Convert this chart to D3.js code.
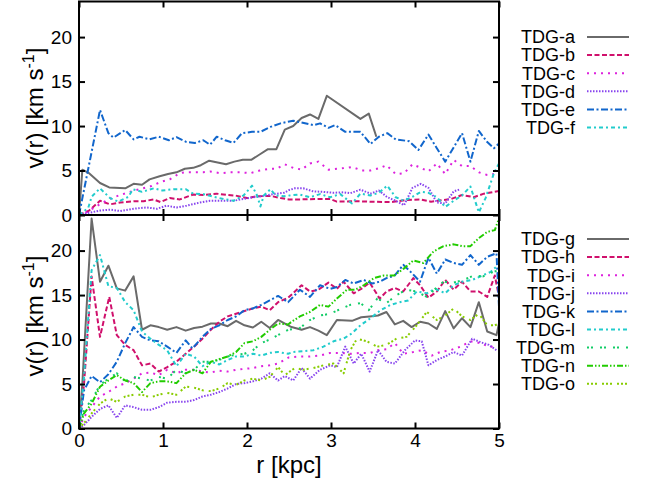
<!DOCTYPE html>
<html><head><meta charset="utf-8">
<script src="https://cdn.jsdelivr.net/npm/d3@7"></script>
<style>
body{margin:0;background:#fff;}
text{font-family:"Liberation Sans",Arial,Helvetica,sans-serif;fill:#000;}
</style></head>
<body><svg id="c" width="645" height="482"></svg>
<script>
// ---------- data ----------
const xTicks = [0,1,2,3,4,5];
const yTicks = [0,5,10,15,20];
const topNames = ["TDG-a","TDG-b","TDG-c","TDG-d","TDG-e","TDG-f"];
const botNames = ["TDG-g","TDG-h","TDG-i","TDG-j","TDG-k","TDG-l","TDG-m","TDG-n","TDG-o"];

const tdgA = [[0,0],[0.04,5.1],[0.12,4.7],[0.25,3.6],[0.36,3.1],[0.55,3.0],[0.65,3.5],[0.75,3.4],[0.84,4.0],[0.96,4.35],[1.06,4.6],[1.16,4.8],[1.26,5.2],[1.36,5.3],[1.45,5.6],[1.55,6.1],[1.65,5.9],[1.75,5.7],[1.85,6.0],[1.95,6.2],[2.05,6.2],[2.15,6.8],[2.25,7.4],[2.35,7.4],[2.45,9.6],[2.55,10.0],[2.65,10.9],[2.75,11.3],[2.85,10.8],[2.95,13.4],[3.35,10.8],[3.45,11.4],[3.54,8.8]];
const tdgB = [[0,0],[0.12,0.5],[0.25,1.6],[0.37,1.2],[0.49,1.4],[0.65,1.55],[0.77,1.55],[0.89,1.75],[0.97,1.45],[1.08,1.9],[1.2,1.75],[1.36,2.3],[1.48,2.25],[1.64,2.4],[1.76,2.25],[1.88,2.15],[2.0,1.9],[2.12,2.1],[2.28,2.15],[2.4,1.9],[2.5,1.75],[2.63,1.75],[2.87,1.8],[2.99,1.8],[3.07,1.5],[3.27,1.55],[3.47,1.5],[3.71,1.45],[3.91,1.7],[4.07,1.75],[4.19,1.5],[4.31,1.65],[4.43,1.8],[4.56,2.25],[4.7,2.0],[4.82,2.4],[4.94,2.6],[5.0,2.7]];
const tdgC = [[0,0],[0.07,0.2],[0.23,1.1],[0.36,1.8],[0.49,2.25],[0.68,2.8],[0.86,3.25],[0.98,3.75],[1.08,4.0],[1.2,4.7],[1.26,4.8],[1.48,4.8],[1.56,4.9],[1.68,4.7],[1.8,4.8],[1.92,4.8],[2.04,4.7],[2.15,5.0],[2.27,5.2],[2.35,5.2],[2.45,5.7],[2.55,5.3],[2.65,5.1],[2.75,5.8],[2.85,6.0],[2.97,5.1],[3.07,5.2],[3.19,5.3],[3.25,5.4],[3.37,5.0],[3.47,5.0],[3.59,5.3],[3.66,5.6],[3.77,4.6],[3.87,4.7],[3.97,5.7],[4.07,5.3],[4.16,4.9],[4.26,5.8],[4.36,4.6],[4.46,6.2],[4.56,5.5],[4.66,5.5],[4.76,4.8],[4.86,4.5],[4.94,4.6]];
const tdgD = [[0,0],[0.1,0.2],[0.25,0.5],[0.37,0.6],[0.49,0.45],[0.65,0.7],[0.8,0.85],[0.93,0.7],[1.04,1.05],[1.16,0.85],[1.28,1.05],[1.44,1.4],[1.56,1.6],[1.72,1.6],[1.84,1.6],[1.96,1.8],[2.08,2.0],[2.2,2.15],[2.32,2.35],[2.44,2.5],[2.5,2.8],[2.57,3.0],[2.67,3.0],[2.79,2.65],[2.91,2.6],[3.03,2.5],[3.15,2.55],[3.23,2.45],[3.35,2.85],[3.47,2.4],[3.57,2.75],[3.67,2.0],[3.77,1.6],[3.87,1.1],[3.97,3.05],[4.07,3.5],[4.16,3.05],[4.26,1.4],[4.36,1.3],[4.46,2.65],[4.54,2.9]];
const tdgE = [[0,0],[0.25,11.8],[0.35,9.2],[0.41,8.7],[0.55,9.55],[0.65,8.5],[0.72,8.8],[0.84,8.5],[0.95,8.8],[1.07,8.4],[1.16,8.75],[1.28,8.2],[1.38,8.1],[1.48,8.4],[1.56,7.9],[1.64,8.8],[1.74,8.4],[1.84,8.1],[1.94,9.2],[2.06,9.35],[2.16,9.35],[2.28,9.9],[2.4,10.3],[2.55,10.6],[2.79,10.1],[2.87,10.3],[2.97,9.8],[3.05,10.1],[3.17,9.35],[3.35,9.35],[3.47,7.98],[3.57,8.8],[3.67,9.2],[3.77,8.5],[3.93,8.3],[4.04,7.3],[4.16,9.05],[4.26,7.5],[4.36,6.0],[4.46,7.6],[4.56,9.2],[4.66,6.0],[4.76,9.45],[4.86,8.2],[4.94,7.5],[5.0,8.05]];
const tdgF = [[0,0],[0.11,0.8],[0.15,2.05],[0.25,3.0],[0.37,1.9],[0.47,1.5],[0.59,2.05],[0.64,2.9],[0.75,2.6],[0.89,3.0],[0.99,2.75],[1.13,2.9],[1.27,2.9],[1.36,2.4],[1.48,2.35],[1.6,2.05],[1.72,1.8],[1.84,1.6],[1.96,2.2],[2.06,3.3],[2.12,2.2],[2.16,0.95],[2.2,2.2],[2.28,2.9],[2.34,2.2],[2.44,2.1],[2.51,2.2],[2.63,2.3],[2.75,2.0],[2.87,2.35],[2.99,2.0],[3.11,2.35],[3.25,1.3],[3.35,2.4],[3.47,2.2],[3.57,2.5],[3.67,3.3],[3.77,2.0],[3.87,1.6],[3.97,2.05],[4.07,2.6],[4.16,2.5],[4.26,2.0],[4.36,0.9],[4.46,1.6],[4.56,2.2],[4.66,3.2],[4.76,0.3],[4.84,1.9],[4.94,4.7],[5.0,5.8]];

const tdgG = [[0,0],[0.04,5.1],[0.15,23.6],[0.25,16.5],[0.35,18.3],[0.45,15.75],[0.55,15.5],[0.65,17.1],[0.75,11.1],[0.85,11.6],[0.95,11.4],[1.05,11.1],[1.16,11.4],[1.27,11.0],[1.37,11.3],[1.47,11.45],[1.57,11.8],[1.67,11.8],[1.77,11.5],[1.87,12.1],[1.97,11.6],[2.07,11.35],[2.17,12.0],[2.27,11.3],[2.37,12.2],[2.49,11.6],[2.53,11.4],[2.65,11.1],[2.75,11.4],[2.85,11.0],[2.95,10.5],[3.07,12.2],[3.25,12.1],[3.36,12.5],[3.46,12.6],[3.56,12.7],[3.66,13.1],[3.76,11.7],[3.86,12.1],[3.96,11.4],[4.06,12.0],[4.16,11.8],[4.26,11.2],[4.36,13.2],[4.46,11.25],[4.56,12.4],[4.66,11.4],[4.76,14.2],[4.86,10.9],[4.97,10.5],[5.0,11.8]];
const tdgH = [[0,0],[0.06,5.0],[0.15,17.1],[0.25,10.3],[0.36,14.8],[0.45,10.5],[0.55,9.4],[0.65,8.8],[0.75,7.1],[0.85,7.3],[0.95,6.4],[1.05,6.9],[1.16,7.5],[1.27,8.4],[1.37,9.2],[1.47,10.1],[1.57,11.1],[1.67,12.0],[1.77,12.6],[1.87,12.9],[1.97,13.2],[2.07,13.5],[2.17,13.7],[2.27,13.3],[2.37,14.2],[2.49,14.7],[2.65,16.1],[2.75,15.4],[2.85,15.6],[2.97,16.4],[3.07,15.7],[3.15,16.5],[3.27,15.2],[3.36,15.7],[3.46,16.4],[3.58,14.6],[3.66,15.4],[3.76,15.8],[3.86,15.4],[3.98,16.9],[4.06,16.1],[4.16,14.7],[4.26,15.4],[4.36,16.7],[4.46,15.6],[4.56,16.5],[4.66,15.4],[4.76,15.4],[4.86,14.8],[4.95,17.2],[5.0,14.8]];
const tdgI = [[0,0],[0.06,1.3],[0.15,2.4],[0.25,3.6],[0.35,4.1],[0.45,4.7],[0.55,5.1],[0.65,5.6],[0.75,6.2],[0.85,6.3],[0.95,6.0],[1.05,6.6],[1.16,6.2],[1.27,6.6],[1.37,6.6],[1.47,6.4],[1.57,6.3],[1.67,6.5],[1.77,6.4],[1.87,6.6],[1.97,6.7],[2.07,6.8],[2.17,7.0],[2.27,7.1],[2.37,7.3],[2.5,8.0],[2.63,8.1],[2.75,8.1],[2.87,8.2],[2.99,8.5],[3.11,8.5],[3.23,8.4],[3.35,8.5],[3.47,8.5],[3.56,8.8],[3.66,8.9],[3.76,9.6],[3.86,8.4],[3.98,8.6],[4.08,8.8],[4.2,8.2],[4.3,8.6],[4.42,8.8],[4.54,9.2],[4.66,9.8],[4.78,9.6],[4.88,9.2],[4.97,9.2]];
const tdgJ = [[0,0],[0.06,0.4],[0.15,1.3],[0.25,2.2],[0.35,2.6],[0.45,1.2],[0.55,2.6],[0.65,2.4],[0.75,2.1],[0.85,2.1],[0.95,2.4],[1.05,2.9],[1.16,3.0],[1.27,3.0],[1.37,3.2],[1.47,3.6],[1.57,3.8],[1.67,4.1],[1.77,4.5],[1.87,5.0],[1.97,5.1],[2.07,5.3],[2.17,5.6],[2.27,6.2],[2.37,5.4],[2.45,5.9],[2.55,5.4],[2.65,6.8],[2.75,5.6],[2.87,6.6],[2.99,7.1],[3.07,6.9],[3.17,9.2],[3.27,7.3],[3.36,8.4],[3.46,6.4],[3.56,8.8],[3.66,7.5],[3.76,7.3],[3.88,8.8],[4.0,9.9],[4.08,9.8],[4.16,7.1],[4.26,7.7],[4.36,8.1],[4.46,8.6],[4.56,8.2],[4.68,10.1],[4.78,9.7],[4.88,9.4],[4.97,8.8]];
const tdgK = [[0,0],[0.06,4.3],[0.15,5.9],[0.25,5.2],[0.35,6.1],[0.45,7.5],[0.55,9.6],[0.65,11.4],[0.75,10.3],[0.85,9.9],[0.95,9.8],[1.05,9.2],[1.16,8.5],[1.27,9.9],[1.35,9.0],[1.47,10.3],[1.57,11.2],[1.67,11.6],[1.77,12.2],[1.87,12.6],[1.97,13.3],[2.07,13.5],[2.17,13.9],[2.27,14.4],[2.37,14.9],[2.49,14.2],[2.63,15.6],[2.75,14.8],[2.87,16.1],[2.99,15.7],[3.07,15.9],[3.17,16.7],[3.27,16.3],[3.39,16.7],[3.49,16.3],[3.58,16.5],[3.66,16.9],[3.76,17.2],[3.86,18.4],[3.96,17.5],[4.06,16.5],[4.16,19.2],[4.26,17.4],[4.36,19.0],[4.46,18.6],[4.56,18.4],[4.66,19.5],[4.76,18.4],[4.86,19.3],[4.97,19.7],[5.0,13.7]];
const tdgL = [[0,0],[0.06,5.8],[0.15,17.8],[0.25,19.5],[0.35,16.0],[0.45,15.8],[0.55,14.2],[0.65,13.3],[0.75,10.9],[0.85,10.1],[0.95,9.4],[1.05,8.8],[1.16,7.0],[1.27,8.4],[1.37,8.1],[1.47,7.0],[1.57,7.5],[1.67,7.2],[1.77,7.7],[1.87,8.1],[1.97,8.1],[2.07,8.4],[2.17,8.2],[2.27,8.5],[2.37,8.6],[2.49,8.4],[2.55,8.6],[2.79,8.8],[2.91,9.2],[3.03,9.8],[3.15,10.1],[3.25,10.7],[3.35,11.6],[3.47,12.4],[3.59,13.3],[3.71,13.9],[3.82,14.2],[3.92,14.4],[4.02,15.4],[4.14,15.2],[4.24,15.7],[4.36,15.2],[4.46,16.1],[4.56,16.5],[4.68,16.7],[4.78,17.1],[4.9,17.6],[4.97,18.2]];
const tdgM = [[0,0],[0.06,2.1],[0.15,3.2],[0.25,4.9],[0.35,5.6],[0.45,6.2],[0.55,5.3],[0.65,5.8],[0.75,5.6],[0.85,5.4],[0.95,5.8],[1.05,5.6],[1.16,6.6],[1.27,6.2],[1.37,6.6],[1.47,7.5],[1.57,7.5],[1.67,7.7],[1.77,8.1],[1.87,8.3],[1.97,8.4],[2.07,8.8],[2.17,9.6],[2.27,10.0],[2.37,10.5],[2.49,11.1],[2.63,11.3],[2.75,12.2],[2.87,12.7],[2.99,12.9],[3.13,13.5],[3.23,13.9],[3.35,14.1],[3.45,13.3],[3.55,14.6],[3.66,14.1],[3.78,15.0],[3.9,15.6],[4.02,15.4],[4.14,14.8],[4.24,15.7],[4.34,16.5],[4.46,16.4],[4.58,16.7],[4.7,17.2],[4.81,17.1],[4.93,17.6],[5.0,17.8]];
const tdgN = [[0,0],[0.06,1.7],[0.15,2.8],[0.25,4.7],[0.35,5.4],[0.45,6.0],[0.55,5.4],[0.65,5.1],[0.75,4.1],[0.85,5.1],[0.95,5.3],[1.05,5.3],[1.16,5.1],[1.27,6.2],[1.37,6.6],[1.47,6.2],[1.57,7.5],[1.67,7.8],[1.77,8.1],[1.87,8.6],[1.97,9.6],[2.07,9.8],[2.17,10.3],[2.27,11.1],[2.37,11.8],[2.49,11.7],[2.53,12.0],[2.63,12.6],[2.75,13.1],[2.87,13.9],[2.97,13.7],[3.07,14.6],[3.19,15.6],[3.29,15.6],[3.39,16.1],[3.51,16.9],[3.63,17.2],[3.75,17.2],[3.87,18.0],[3.98,18.9],[4.1,18.6],[4.22,19.9],[4.34,20.5],[4.46,20.7],[4.56,20.5],[4.66,20.5],[4.76,21.4],[4.86,22.1],[4.95,22.3],[5.0,23.6]];
const tdgO = [[0,0],[0.06,0.6],[0.15,1.7],[0.25,2.8],[0.35,3.4],[0.45,3.0],[0.55,3.6],[0.65,3.8],[0.75,3.8],[0.85,3.5],[0.95,3.8],[1.05,4.0],[1.16,3.8],[1.27,4.7],[1.37,4.6],[1.47,4.3],[1.57,4.2],[1.67,4.5],[1.77,5.1],[1.87,4.9],[1.97,5.4],[2.07,5.6],[2.17,5.4],[2.27,5.8],[2.37,6.9],[2.45,6.0],[2.57,6.8],[2.67,6.6],[2.79,6.8],[2.91,7.1],[3.03,7.3],[3.15,6.2],[3.23,8.8],[3.31,10.1],[3.43,9.8],[3.55,9.2],[3.66,9.4],[3.78,10.1],[3.9,10.3],[4.02,11.6],[4.14,13.1],[4.26,12.2],[4.36,12.7],[4.46,13.5],[4.56,12.6],[4.66,12.2],[4.76,12.9],[4.86,11.6],[4.95,11.6],[5.0,11.8]];

// ---------- styles ----------
const styles = [
  {c:"#6a6a6a", d:null},
  {c:"#d0106c", d:"5,2.5"},
  {c:"#dd22dd", d:"2,5"},
  {c:"#8844ee", d:"1.5,1.5"},
  {c:"#1166cc", d:"7,2.5,2,2.5"},
  {c:"#22cccc", d:"4,3,2,3"},
  {c:"#11cc66", d:"2,2,2,7"},
  {c:"#22cc00", d:"6,2,1.5,2,1.5,2"},
  {c:"#88cc00", d:"2,2,2,2,2,5"}
];
const topSeries = [tdgA,tdgB,tdgC,tdgD,tdgE,tdgF];
const botSeries = [tdgG,tdgH,tdgI,tdgJ,tdgK,tdgL,tdgM,tdgN,tdgO];

const svg = d3.select("#c");
const L = 79, R = 499;
const x = d3.scaleLinear().domain([0,5]).range([L,R]);
const panels = [
  {top:1.5, bot:215, series:topSeries, names:topNames, xlabels:false, leg0:37, legStep:18.1, ylab:108},
  {top:215, bot:428.5, series:botSeries, names:botNames, xlabels:true, leg0:239, legStep:18.1, ylab:316}
];

panels.forEach((p,pi)=>{
  const y = d3.scaleLinear().domain([0,24]).range([p.bot,p.top]);
  const cid = "clip"+pi;
  svg.append("clipPath").attr("id",cid).append("rect")
    .attr("x",L).attr("y",p.top).attr("width",R-L).attr("height",p.bot-p.top);
  const line = d3.line().x(d=>x(d[0])).y(d=>y(d[1]));
  const g = svg.append("g").attr("clip-path",`url(#${cid})`);
  p.series.forEach((s,i)=>{
    g.append("path").datum(s).attr("d",line)
      .attr("fill","none").attr("stroke",styles[i].c).attr("stroke-width",2)
      .attr("stroke-dasharray",styles[i].d).attr("stroke-linejoin","round");
  });
  const fs = "19px";
  const ax = svg.append("g").attr("transform",`translate(${L},0)`)
    .call(d3.axisLeft(y).tickValues(yTicks).tickSize(-6).tickPadding(7));
  ax.selectAll("text").style("font-size",fs).style("font-family","Liberation Sans, Arial, sans-serif");
  svg.append("g").attr("transform",`translate(${R},0)`)
    .call(d3.axisRight(y).tickValues(yTicks).tickSize(-6).tickFormat(""));
  const bx = svg.append("g").attr("transform",`translate(0,${p.bot})`)
    .call(d3.axisBottom(x).tickValues(xTicks).tickSize(-6).tickPadding(5).tickFormat(p.xlabels? d3.format("d") : ""));
  bx.selectAll("text").style("font-size",fs).style("font-family","Liberation Sans, Arial, sans-serif");
  svg.append("g").attr("transform",`translate(0,${p.top})`)
    .call(d3.axisTop(x).tickValues(xTicks).tickSize(-6).tickFormat(""));
  svg.selectAll(".domain").remove();
  svg.selectAll(".tick line").attr("stroke","#000").attr("stroke-width",2);
  svg.append("rect").attr("x",L).attr("y",p.top).attr("width",R-L).attr("height",p.bot-p.top)
    .attr("fill","none").attr("stroke","#000").attr("stroke-width",2);
  const yl = svg.append("text").attr("transform",`translate(43,${p.ylab}) rotate(-90)`)
    .attr("text-anchor","middle").style("font-size","24px");
  yl.append("tspan").text("v(r) [km s");
  yl.append("tspan").text("-1").style("font-size","16px").attr("dy",-9);
  yl.append("tspan").text("]").attr("dy",9);
  p.names.forEach((n,i)=>{
    const yy = p.leg0 + i*p.legStep;
    svg.append("text").attr("x",575).attr("y",yy).attr("dy","0.35em")
      .attr("text-anchor","end").style("font-size","18px").text(n);
    svg.append("line").attr("x1",587).attr("x2",629).attr("y1",yy).attr("y2",yy)
      .attr("stroke",styles[i].c).attr("stroke-width",2).attr("stroke-dasharray",styles[i].d);
  });
});

svg.append("text").attr("x",289).attr("y",473).attr("text-anchor","middle")
  .style("font-size","24px").text("r [kpc]");
</script></body></html>
